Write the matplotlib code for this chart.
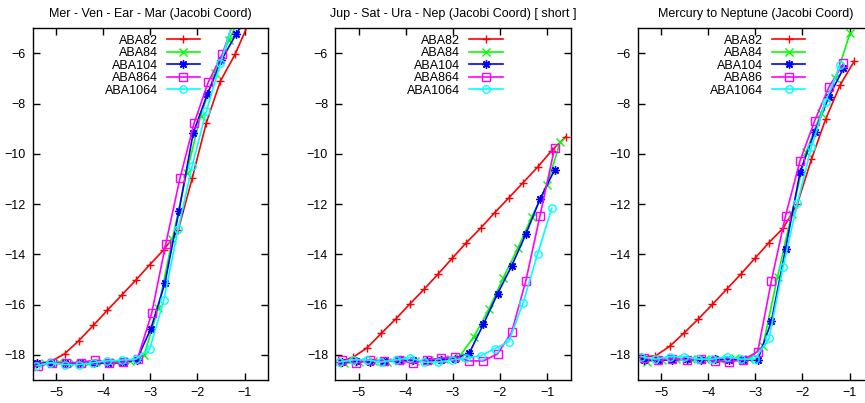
import matplotlib
matplotlib.use("Agg")
import matplotlib.pyplot as plt

plt.rcParams['font.family'] = ['Liberation Sans', 'DejaVu Sans']
plt.rcParams['font.size'] = 9

# x values: log10 of step size
x_grid = [-5.42, -5.12, -4.82, -4.52, -4.21, -3.91, -3.61, -3.31, -3.01,
          -2.71, -2.41, -2.11, -1.81, -1.51, -1.20, -0.90, -0.60]

titles = ["Mer - Ven - Ear - Mar (Jacobi Coord)",
          "Jup - Sat - Ura - Nep (Jacobi Coord) [ short ]",
          "Mercury to Neptune (Jacobi Coord)"]
labels1 = ["ABA82", "ABA84", "ABA104", "ABA864", "ABA1064"]
labels2 = ["ABA82", "ABA84", "ABA104", "ABA864", "ABA1064"]
labels3 = ["ABA82", "ABA84", "ABA104", "ABA86", "ABA1064"]

# ---- panel 1 : inner planets
p1_x82 = x_grid[:16]
p1_y82 = [-18.35, -18.27, -17.96, -17.44, -16.83, -16.22, -15.63, -15.03, -14.41,
          -13.81, -13.05, -10.97, -8.76, -7.10, -6.04, -4.75]
p1_x84 = [-5.23, -4.93, -4.63, -4.33, -4.03, -3.73, -3.43, -3.13, -2.83, -2.53,
          -2.23, -1.93, -1.63, -1.33, -1.03]
p1_y84 = [-18.33, -18.30, -18.32, -18.33, -18.30, -18.28, -18.25, -18.00, -16.14,
          -13.40, -10.77, -8.48, -6.80, -5.47, -4.30]
p1_x104 = [-5.40, -5.10, -4.80, -4.50, -4.19, -3.89, -3.59, -3.29, -2.99, -2.69,
           -2.39, -2.09, -1.79, -1.49, -1.18, -0.88]
p1_y104 = [-18.33, -18.32, -18.33, -18.34, -18.32, -18.33, -18.30, -18.20, -16.97,
           -15.15, -12.26, -9.18, -7.63, -6.27, -5.24, -4.40]
p1_x864 = [-5.38, -5.08, -4.78, -4.48, -4.17, -3.87, -3.57, -3.27, -2.97, -2.67,
           -2.37, -2.07, -1.77, -1.47, -1.17]
p1_y864 = [-18.43, -18.33, -18.31, -18.31, -18.20, -18.33, -18.29, -18.15, -16.34,
           -13.57, -10.97, -8.78, -7.15, -6.03, -4.40]
p1_x1064 = x_grid[:15]
p1_y1064 = [-18.43, -18.31, -18.39, -18.39, -18.31, -18.24, -18.21, -18.17, -17.75,
            -15.80, -13.00, -10.47, -8.30, -6.40, -4.45]

# ---- panel 2 : outer planets
p2_x82 = x_grid[:17]
p2_y82 = [-18.30, -18.10, -17.72, -17.15, -16.57, -15.97, -15.39, -14.78, -14.15,
          -13.53, -12.96, -12.34, -11.75, -11.15, -10.53, -9.87, -9.32]
p2_x84 = [-5.30, -5.00, -4.70, -4.40, -4.10, -3.80, -3.50, -3.18, -2.86, -2.55,
          -2.23, -1.93, -1.62, -1.32, -1.00, -0.72]
p2_y84 = [-18.33, -18.30, -18.25, -18.27, -18.22, -18.25, -18.20, -18.15, -18.07,
          -17.27, -16.18, -14.94, -13.76, -12.50, -11.24, -9.53]
p2_x104 = [-5.35, -5.05, -4.75, -4.45, -4.15, -3.85, -3.55, -3.25, -2.95, -2.65,
           -2.35, -2.05, -1.75, -1.45, -1.15, -0.84]
p2_y104 = [-18.30, -18.25, -18.27, -18.25, -18.22, -18.22, -18.25, -18.20, -18.15,
           -17.93, -16.78, -15.57, -14.46, -13.20, -11.81, -10.64]
p2_x864 = p2_x104
p2_y864 = [-18.20, -18.33, -18.20, -18.24, -18.22, -18.33, -18.20, -18.13, -18.07,
           -18.24, -18.24, -17.96, -17.10, -15.06, -12.47, -9.78]
p2_x1064 = x_grid[:16]
p2_y1064 = [-18.29, -18.20, -18.20, -18.29, -18.20, -18.11, -18.29, -18.29, -18.20,
            -18.13, -18.04, -17.76, -17.47, -15.94, -13.99, -12.17]

# ---- panel 3 : all planets
p3_x82 = x_grid[:16]
p3_y82 = [-18.08, -18.04, -17.66, -17.14, -16.57, -15.99, -15.39, -14.79, -14.16,
          -13.53, -12.96, -12.00, -10.22, -8.63, -7.26, -6.31]
p3_x84 = [-5.30, -4.99, -4.68, -4.37, -4.06, -3.75, -3.44, -3.14, -2.84, -2.53,
          -2.23, -1.92, -1.61, -1.30, -0.99]
p3_y84 = [-18.27, -18.20, -18.18, -18.15, -18.18, -18.15, -18.12, -18.15, -17.65,
          -14.89, -12.40, -9.91, -8.39, -6.99, -5.20]
p3_x104 = [-5.36, -5.06, -4.76, -4.46, -4.16, -3.86, -3.56, -3.26, -2.95, -2.66,
           -2.36, -2.05, -1.74, -1.44, -1.13]
p3_y104 = [-18.20, -18.22, -18.20, -18.18, -18.20, -18.18, -18.20, -18.20, -18.20,
           -16.67, -13.80, -10.71, -9.12, -7.73, -6.60]
p3_x86 = p3_x104
p3_y86 = [-18.12, -18.22, -18.15, -18.20, -18.15, -18.25, -18.28, -18.20, -17.87,
          -15.06, -12.47, -10.27, -8.68, -7.35, -6.40]
p3_x1064 = x_grid[:15]
p3_y1064 = [-18.07, -18.17, -18.07, -18.07, -18.17, -18.17, -18.07, -18.17, -18.17,
            -17.34, -14.49, -11.97, -9.74, -7.92, -6.47]

colors = ['#ff0000', '#00ff00', '#0000ff', '#ff00ff', '#00ffff']
markers = ['+', 'x', (8, 2, 0), 's', 'o']


def draw_panel(ax, title, labels, xs, ys):
	for i in range(5):
		ax.plot(xs[i], ys[i], color=colors[i], marker=markers[i], lw=1.2,
				ms=6 if i < 3 else 5.3, mew=1.0, mfc='none', label=labels[i])
	ax.set_xlim(-5.5, -0.5)
	ax.set_ylim(-19, -5)
	ax.set_xticks([-5, -4, -3, -2, -1])
	ax.set_yticks([-18, -16, -14, -12, -10, -8, -6])
	ax.tick_params(direction='in', length=5, width=1, top=True, right=True,
				   labelsize=9, pad=5)
	for s in ax.spines.values():
		s.set_linewidth(1.0)
	ax.set_title(title, fontsize=9, pad=8)
	ax.legend(loc='upper right', bbox_to_anchor=(0.755, 1.01), frameon=False,
			  markerfirst=False, handlelength=2.7, handletextpad=0.7,
			  labelspacing=0.04, fontsize=9, borderpad=0.3)


fig = plt.figure(figsize=(8.65, 4.03), dpi=100)
ax1 = fig.add_axes([0.0376, 0.0571, 0.2723, 0.873])
ax2 = fig.add_axes([0.3873, 0.0571, 0.2723, 0.873])
ax3 = fig.add_axes([0.7371, 0.0571, 0.2723, 0.873])

draw_panel(ax1, titles[0], labels1,
		   [p1_x82, p1_x84, p1_x104, p1_x864, p1_x1064],
		   [p1_y82, p1_y84, p1_y104, p1_y864, p1_y1064])
draw_panel(ax2, titles[1], labels2,
		   [p2_x82, p2_x84, p2_x104, p2_x864, p2_x1064],
		   [p2_y82, p2_y84, p2_y104, p2_y864, p2_y1064])
draw_panel(ax3, titles[2], labels3,
		   [p3_x82, p3_x84, p3_x104, p3_x86, p3_x1064],
		   [p3_y82, p3_y84, p3_y104, p3_y86, p3_y1064])

fig.savefig("out.png", dpi=100)
